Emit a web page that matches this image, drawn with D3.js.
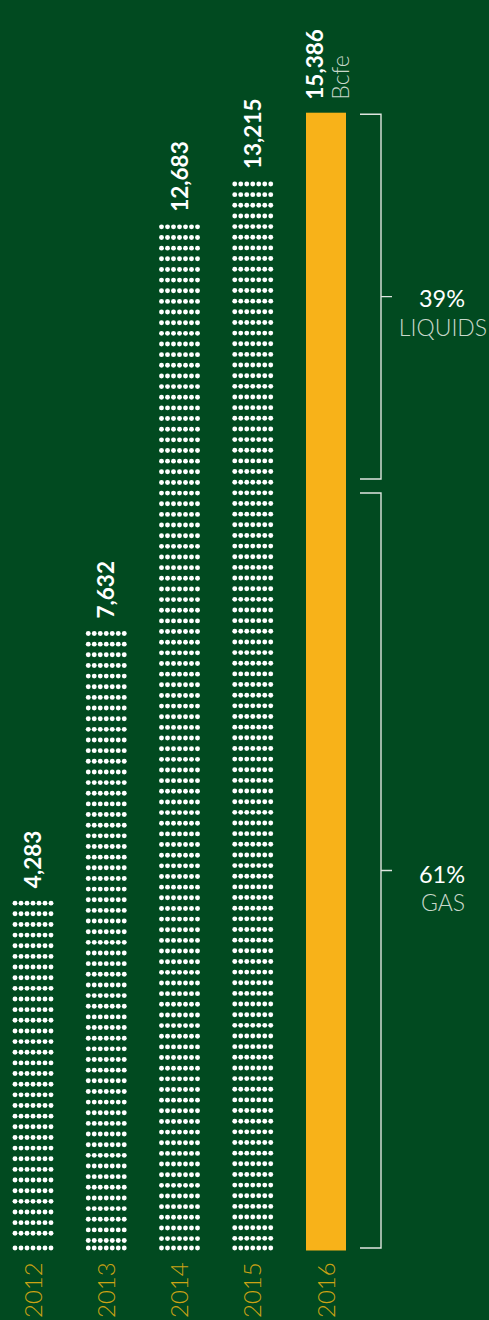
<!DOCTYPE html>
<html>
<head>
<meta charset="utf-8">
<script src="https://cdn.jsdelivr.net/npm/d3@7"></script>
<style>
  html, body { margin: 0; padding: 0; background: #014a20; }
  svg { display: block; }
  text { font-family: Lato, "Open Sans", sans-serif; }
</style>
</head>
<body>
<script>
// ---- data ----
const years = ["2012", "2013", "2014", "2015", "2016"];
const values = [4283, 7632, 12683, 13215, 15386];
const highlightYear = "2016";
const unitLabel = "Bcfe";
const shareLabels = ["LIQUIDS", "GAS"];
const sharePcts = ["39%", "61%"];
// bracket extents, in Bcfe along the highlighted bar
const bracketTops = [15386, 10264];
const bracketBottoms = [10433, 0];

// ---- layout ----
const W = 489, H = 1320;
const baseY = 1248;
const svg = d3.select("body").append("svg").attr("width", W).attr("height", H);
svg.append("rect").attr("width", W).attr("height", H).attr("fill", "#014a20");

const data = years.map((y, i) => ({ year: y, value: values[i] }));
const dotData = data.filter(d => d.year !== highlightYear);
const hi = data.find(d => d.year === highlightYear);

const x = d3.scalePoint().domain(years).range([33, 326]);
const yDots = d3.scaleLinear().domain([0, d3.max(dotData, d => d.value)]).range([baseY, 184]);
const yBar = d3.scaleLinear().domain([0, hi.value]).range([1250.5, 112.7]);

// dotted bars
const cols = d3.range(7).map(i => (i - 3) * 6);
const rowGap = 10.65;
dotData.forEach(d => {
  const top = yDots(d.value);
  const rows = [];
  for (let yy = top; yy < baseY - 6; yy += rowGap) rows.push(yy);
  rows.push(baseY);
  const g = svg.append("g");
  rows.forEach(ry => {
    cols.forEach(cx => {
      g.append("circle").attr("cx", x(d.year) + cx).attr("cy", ry).attr("r", 2.45).attr("fill", "#ffffff");
    });
  });
  svg.append("text")
    .attr("transform", `translate(${x(d.year)},${top - 15}) rotate(-90)`)
    .attr("dy", "0.36em")
    .attr("fill", "#ffffff").attr("font-weight", 700).attr("font-size", 22.5)
    .text(d3.format(",")(d.value));
});

// highlighted solid bar
svg.append("rect")
  .attr("x", x(hi.year) - 20).attr("width", 40)
  .attr("y", yBar(hi.value)).attr("height", yBar(0) - yBar(hi.value))
  .attr("fill", "#f8b219");
svg.append("text")
  .attr("transform", `translate(${x(hi.year) - 11},${yBar(hi.value) - 13}) rotate(-90)`)
  .attr("dy", "0.36em")
  .attr("fill", "#ffffff").attr("font-weight", 700).attr("font-size", 22.5)
  .text(d3.format(",")(hi.value));
svg.append("text")
  .attr("transform", `translate(${x(hi.year) + 15},${yBar(hi.value) - 13}) rotate(-90)`)
  .attr("dy", "0.36em")
  .attr("fill", "#c9d8cb").attr("font-weight", 300).attr("font-size", 23)
  .text(unitLabel);

// year labels
years.forEach(y => {
  svg.append("text")
    .attr("transform", `translate(${x(y)},1318) rotate(-90)`)
    .attr("dy", "0.36em")
    .attr("fill", "#cca315").attr("font-weight", 300).attr("font-size", 24)
    .text(y);
});

// brackets
const bx = 381, bl = 360, tickR = 392;
shareLabels.forEach((lab, i) => {
  const t = yBar(bracketTops[i]) + 1.5;
  const b = Math.min(yBar(bracketBottoms[i]), baseY);
  const m = (t + b) / 2;
  svg.append("path")
    .attr("d", `M${bl},${t}H${bx}V${b}H${bl}M${bx},${m}H${tickR}`)
    .attr("fill", "none").attr("stroke", "#dfe5df").attr("stroke-width", 1.4);
  svg.append("text")
    .attr("x", 442).attr("y", m + 10 + i * 3)
    .attr("text-anchor", "middle").attr("fill", "#ffffff")
    .attr("font-weight", 400).attr("font-size", 23.5)
    .text(sharePcts[i]);
  svg.append("text")
    .attr("x", 443).attr("y", m + 39 + i * 2)
    .attr("text-anchor", "middle").attr("fill", "#c9d8cb")
    .attr("font-weight", 300).attr("font-size", 23)
    .text(lab);
});
</script>
</body>
</html>
